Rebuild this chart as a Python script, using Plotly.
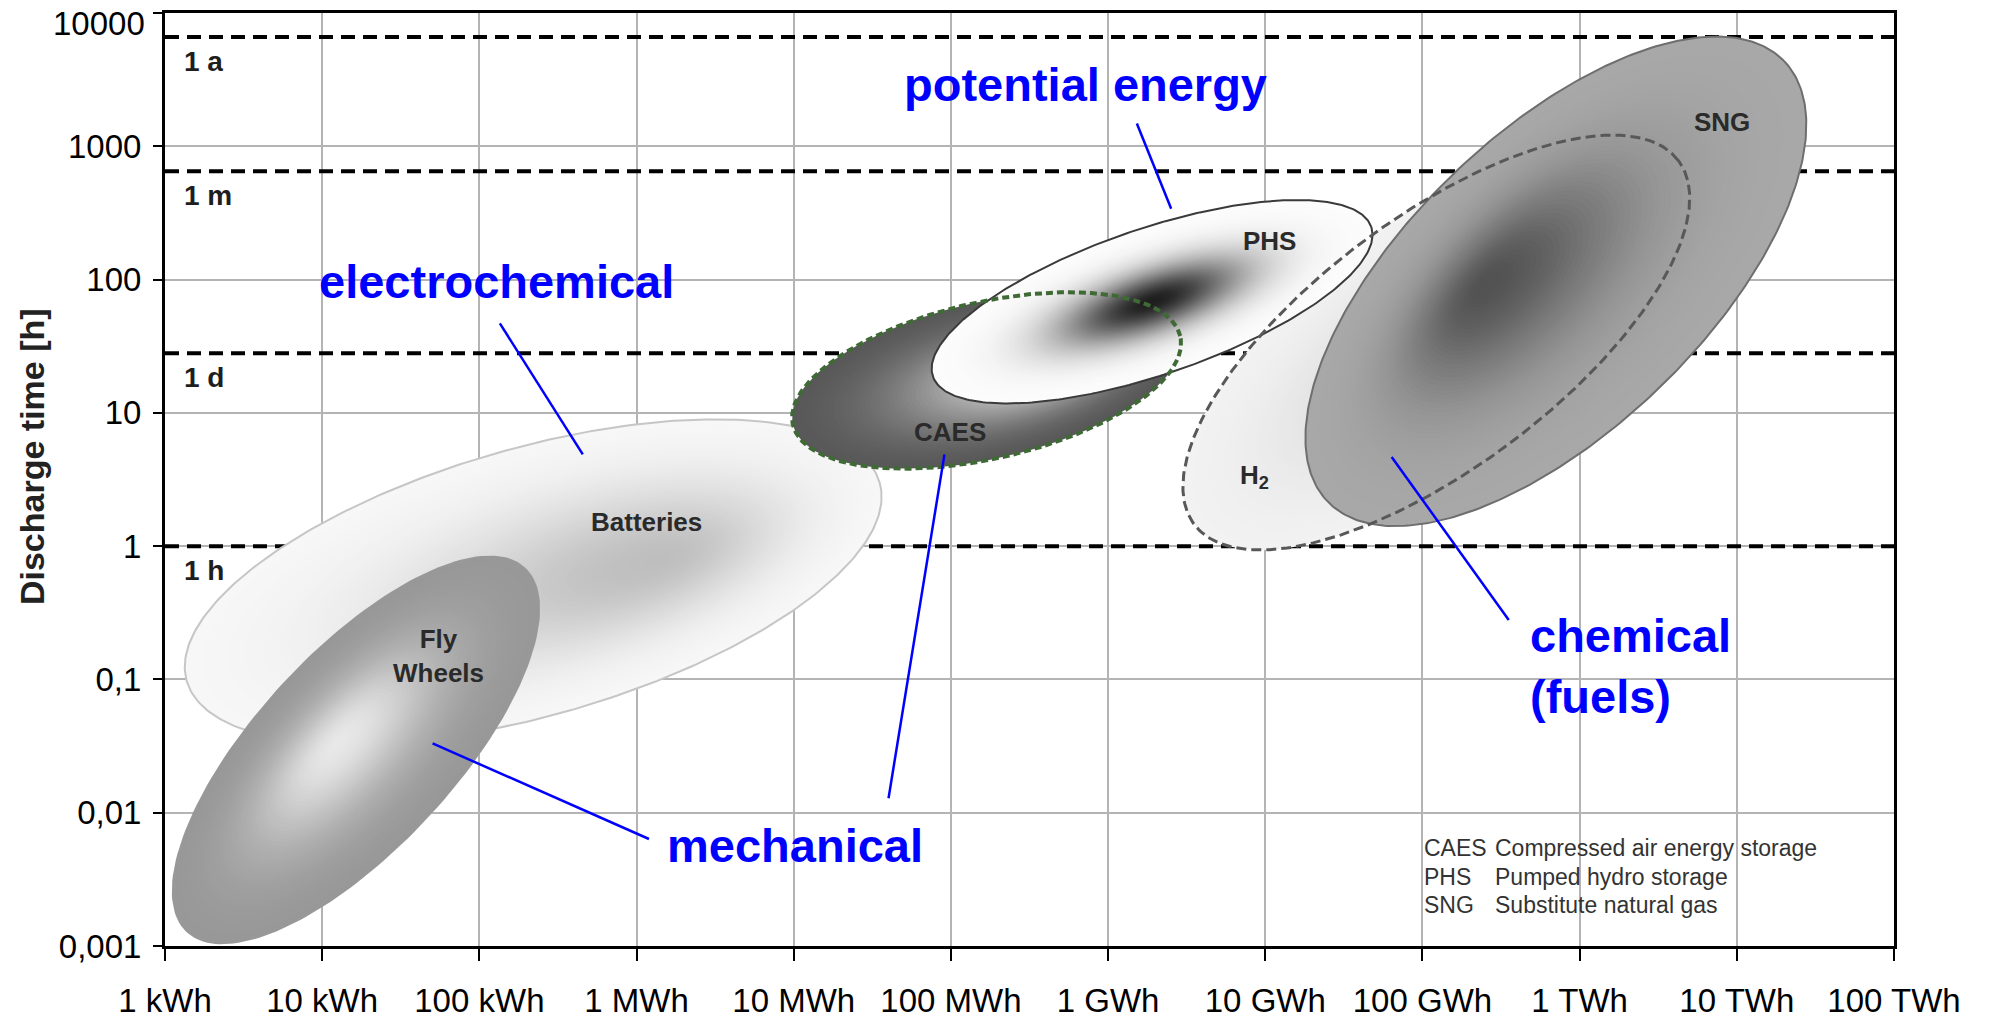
import numpy as np
import plotly.graph_objects as go

# ---- axis ticks -------------------------------------------------------------
energy_ticks_kwh = [1, 1e1, 1e2, 1e3, 1e4, 1e5, 1e6, 1e7, 1e8, 1e9, 1e10, 1e11]
energy_tick_labels = ["1 kWh", "10 kWh", "100 kWh", "1 MWh", "10 MWh", "100 MWh",
                      "1 GWh", "10 GWh", "100 GWh", "1 TWh", "10 TWh", "100 TWh"]
time_ticks_h = [0.001, 0.01, 0.1, 1, 10, 100, 1000, 10000]
time_tick_labels = ["0,001", "0,01", "0,1", "1", "10", "100", "1000", "10000"]

# ---- reference durations (dashed lines) ------------------------------------
duration_labels = ["1 a", "1 m", "1 d", "1 h"]
duration_hours = [6600, 650, 28, 1]

# ---- storage technologies ---------------------------------------------------
# each region: centre, end of the long axis, end of the short axis,
# and the point the shading is focused on (energy in kWh, time in h)
tech_names = ["Batteries", "Fly Wheels", "CAES", "PHS", "H2", "SNG"]
center_kwh = [220, 16.4, 1.687e5, 1.905e6, 1.225e8, 7.06e8]
center_h = [0.54, 0.0296, 17.5, 68.2, 33.7, 97]
major_kwh = [3.52e4, 196, 2.88e6, 4.72e7, 4.24e9, 2.0e10]
major_h = [3.0, 0.689, 37.7, 249, 783, 4355]
minor_kwh = [128, 5.68, 1.297e5, 1.337e6, 4.06e7, 1.56e8]
minor_h = [4.98, 0.095, 65.3, 224, 187.5, 615]
focus_kwh = [1445, 12.4, 3.91e5, 1.905e6, 1.845e8, 2.44e8]
focus_h = [0.80, 0.0331, 21.7, 68.2, 42.1, 90.8]

# label text and position of each technology
tech_label_text = ["Batteries", "Fly<br>Wheels", "CAES", "PHS", "H<sub>2</sub>", "SNG"]
tech_label_kwh = [1156, 55.2, 9.82e4, 1.06e7, 8.49e6, 8.0e9]
tech_label_h = [1.52, 0.151, 7.24, 196, 3.35, 1517]

# ---- storage categories (blue call-outs) -----------------------------------
category_text = ["electrochemical", "potential energy", "mechanical", "chemical<br>(fuels)"]
category_kwh = [128, 7.23e5, 1.026e4, 4.69e8]
category_h = [97, 2931, 0.00569, 0.1265]
category_anchor = ["center", "center", "center", "left"]

# leader lines: (start kWh, start h, end kWh, end h)
leader_start_kwh = [135, 1.524e6, 1200, 4.01e4, 3.54e8]
leader_start_h = [46.9, 1483, 0.00635, 0.01285, 0.279]
leader_end_kwh = [455, 2.52e6, 50.4, 9.1e4, 6.37e7]
leader_end_h = [4.88, 340, 0.0331, 4.88, 4.67]

# ---- abbreviations key ------------------------------------------------------
key_abbr = ["CAES", "PHS", "SNG"]
key_text = ["Compressed air energy storage", "Pumped hydro storage", "Substitute natural gas"]
key_row_h = [0.00545, 0.00329, 0.00203]
key_abbr_kwh = 9.95e7
key_text_kwh = 2.83e8

# ---- styling per technology -------------------------------------------------
style = {
    "Batteries":  dict(edge=247, core=190, width=0.55, line="#c6c6c6", lw=2, dash=None),
    "Fly Wheels": dict(edge=152, core=232, width=0.50, line=None, lw=0, dash=None),
    "CAES":       dict(edge=88, core=222, width=0.55, line="#3f6a35", lw=4, dash="7px,4px"),
    "PHS":        dict(edge=252, core=30, width=0.42, line="#3a3a3a", lw=2, dash=None),
    "H2":         dict(edge=242, core=205, width=0.60, line="#585858", lw=3, dash="10px,5px"),
    "SNG":        dict(edge=168, core=82, width=0.45, line="#6e6e6e", lw=2, dash=None),
}

L = np.log10


def outline(i, n=180):
    """Ellipse boundary of technology i in log10 space."""
    t = np.linspace(0, 2 * np.pi, n)
    cx, cy = L(center_kwh[i]), L(center_h[i])
    mx, my = L(major_kwh[i]) - cx, L(major_h[i]) - cy
    nx, ny = L(minor_kwh[i]) - cx, L(minor_h[i]) - cy
    return cx + np.cos(t) * mx + np.sin(t) * nx, cy + np.cos(t) * my + np.sin(t) * ny


def shade(s, st):
    w = st["width"]
    g = (np.exp(-(s / w) ** 2) - np.exp(-1 / w ** 2)) / (1 - np.exp(-1 / w ** 2))
    v = int(round(st["edge"] + (st["core"] - st["edge"]) * g))
    return f"rgb({v},{v},{v})"


fig = go.Figure()

# dashed duration lines
for hrs in duration_hours:
    fig.add_trace(go.Scatter(
        x=[energy_ticks_kwh[0], energy_ticks_kwh[-1]], y=[hrs, hrs], mode="lines",
        line=dict(color="black", width=4, dash="14px,8px"),
        hoverinfo="skip", showlegend=False))


def add_fill(i, layers=55):
    st = style[tech_names[i]]
    bx, by = outline(i)
    fx, fy = L(focus_kwh[i]), L(focus_h[i])
    for k in range(layers):
        s = 1 - k / layers
        lx = fx + s * (bx - fx)
        ly = fy + s * (by - fy)
        fig.add_trace(go.Scatter(
            x=10 ** lx, y=10 ** ly, mode="lines", fill="toself",
            fillcolor=shade(s, st), line=dict(width=0),
            hoverinfo="skip", showlegend=False))


def add_line(i):
    st = style[tech_names[i]]
    if not st["line"]:
        return
    bx, by = outline(i, 360)
    fig.add_trace(go.Scatter(
        x=10 ** bx, y=10 ** by, mode="lines",
        line=dict(color=st["line"], width=st["lw"], dash=st["dash"] or "solid"),
        hoverinfo="skip", showlegend=False))


idx = {n: i for i, n in enumerate(tech_names)}
add_fill(idx["Batteries"]); add_line(idx["Batteries"])
add_fill(idx["Fly Wheels"])
add_fill(idx["H2"])
add_fill(idx["CAES"])
add_fill(idx["PHS"], 80); add_line(idx["PHS"])
add_line(idx["CAES"])
add_fill(idx["SNG"]); add_line(idx["SNG"])
add_line(idx["H2"])

# blue leader lines
for x0, y0, x1, y1 in zip(leader_start_kwh, leader_start_h, leader_end_kwh, leader_end_h):
    fig.add_trace(go.Scatter(
        x=[x0, x1], y=[y0, y1], mode="lines", line=dict(color="#0000ff", width=2.5),
        hoverinfo="skip", showlegend=False))

annotations = []
label_font = dict(family="Liberation Sans, Arial, sans-serif", size=26, color="#2a2a2a")
for txt, ex, hy in zip(tech_label_text, tech_label_kwh, tech_label_h):
    annotations.append(dict(x=L(ex), y=L(hy), xref="x", yref="y", text=f"<b>{txt}</b>",
                            showarrow=False, font=label_font, align="center"))

for txt, hy in zip(duration_labels, duration_hours):
    annotations.append(dict(x=0.11, y=L(hy), xref="x", yref="y", text=f"<b>{txt}</b>",
                            showarrow=False, xanchor="left", yanchor="middle", yshift=-24,
                            font=dict(family="Liberation Sans, Arial, sans-serif", size=28,
                                      color="#1e1e1e")))

blue_font = dict(family="Liberation Sans, Arial, sans-serif", size=47, color="#0000ff")
for txt, ex, hy, anc in zip(category_text, category_kwh, category_h, category_anchor):
    annotations.append(dict(x=L(ex), y=L(hy), xref="x", yref="y", text=f"<b>{txt}</b>",
                            showarrow=False, xanchor=anc, align="left", font=blue_font))

key_font = dict(family="Liberation Sans, Arial, sans-serif", size=23, color="#333333")
for ab, tx, hy in zip(key_abbr, key_text, key_row_h):
    annotations.append(dict(x=L(key_abbr_kwh), y=L(hy), xref="x", yref="y", text=ab,
                            showarrow=False, xanchor="left", font=key_font))
    annotations.append(dict(x=L(key_text_kwh), y=L(hy), xref="x", yref="y", text=tx,
                            showarrow=False, xanchor="left", font=key_font))

# topmost y tick label sits just inside the figure edge
tick_font = dict(family="Liberation Sans, Arial, sans-serif", size=33, color="#000000")
annotations.append(dict(x=0, y=L(time_ticks_h[-1]), xref="paper", yref="y",
                        xanchor="right", yanchor="top", xshift=-18, yshift=10,
                        text=time_tick_labels[-1], showarrow=False, font=tick_font))
y_tick_text = time_tick_labels[:-1] + [""]

# y-axis title
annotations.append(dict(x=-0.077, y=0.525, xref="paper", yref="paper",
                        xanchor="center", yanchor="middle",
                        text="<b>Discharge time [h]</b>", textangle=-90, showarrow=False,
                        font=dict(family="Liberation Sans, Arial, sans-serif", size=34,
                                  color="#222222")))

shapes = [dict(type="rect", xref="x", yref="y", x0=7.86, x1=10.94, y0=-2.89, y1=-2.05,
               fillcolor="white", line=dict(width=0), layer="between")]

axis_common = dict(
    type="log", showgrid=True, gridcolor="#b4b4b4", gridwidth=2, zeroline=False,
    showline=True, linecolor="black", linewidth=3, mirror=True, automargin=False,
    ticks="outside", tickwidth=2, tickcolor="black", ticklabeloverflow="allow",
)

fig.update_layout(
    template="none",
    width=1997, height=1019,
    margin=dict(l=165, r=103, t=13, b=73),
    paper_bgcolor="white", plot_bgcolor="white",
    showlegend=False,
    annotations=annotations,
    shapes=shapes,
    xaxis=dict(axis_common, range=[0, 11], tickvals=energy_ticks_kwh, ticktext=energy_tick_labels,
               ticklen=12, ticklabelstandoff=11, tickfont=tick_font),
    yaxis=dict(axis_common, range=[-3, 4], tickvals=time_ticks_h, ticktext=y_tick_text,
               ticklen=9, ticklabelstandoff=5, tickfont=tick_font),
)

fig.write_html("out.html")
